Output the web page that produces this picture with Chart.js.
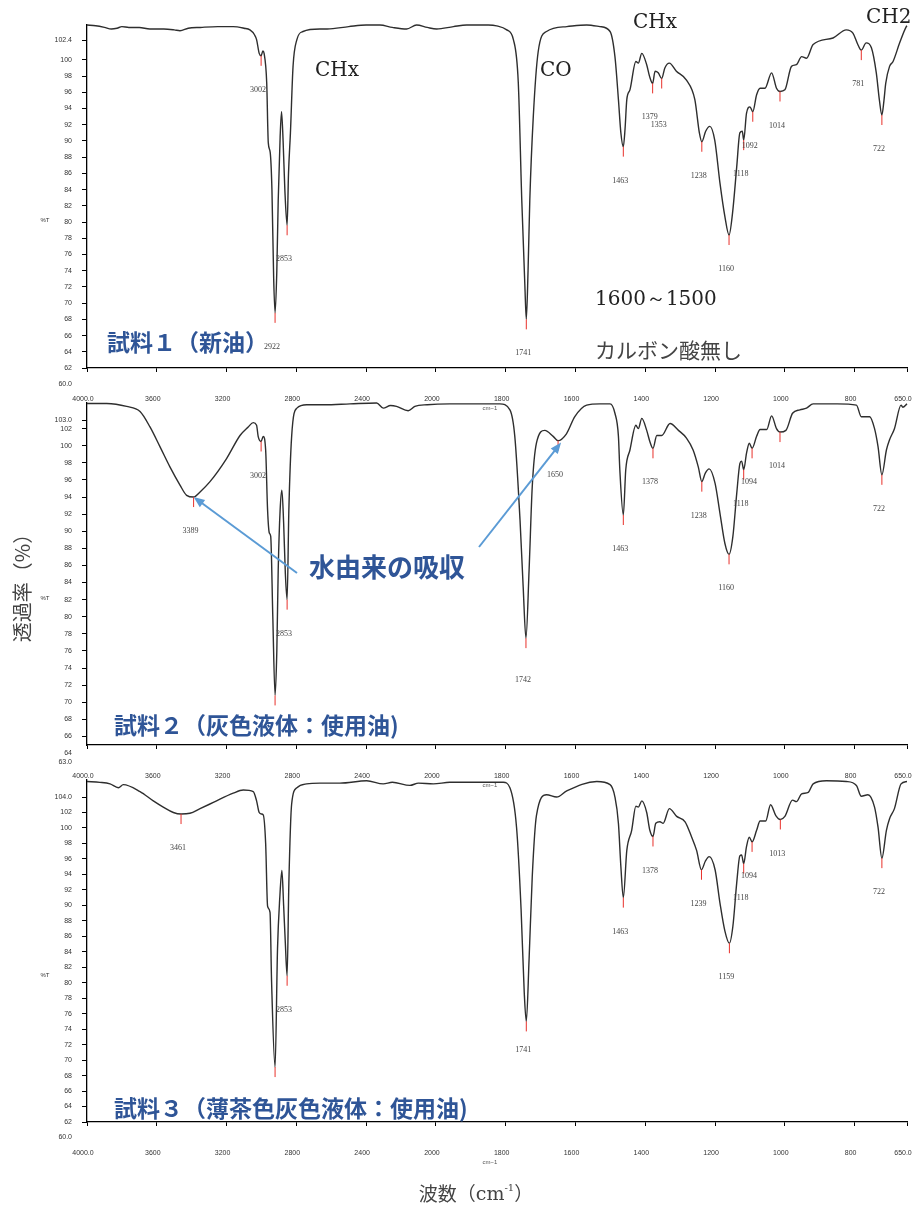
<!DOCTYPE html>
<html>
<head>
<meta charset="utf-8">
<script src="https://cdn.jsdelivr.net/npm/chart.js@4.4.1/dist/chart.umd.min.js"></script>
<style>
  body { margin: 0; background: #fff; }
  #wrap { position: relative; width: 914px; height: 1208px; }
  canvas { position: absolute; left: 0; top: 0; }
</style>
</head>
<body>
<div id="wrap">
  <canvas id="c1" width="914" height="1208"></canvas>
  <canvas id="c2" width="914" height="1208"></canvas>
  <canvas id="c3" width="914" height="1208"></canvas>
</div>
<script>
// x axis (wavenumber, cm-1)
const waveTicks = [4000, 3600, 3200, 2800, 2400, 2000, 1800, 1600, 1400, 1200, 1000, 800, 650];
const waveTickLabels = ['4000.0', '3600', '3200', '2800', '2400', '2000', '1800', '1600', '1400', '1200', '1000', '800', '650.0'];

// y axis ticks (%T) per sample
const yTicks1 = [62, 64, 66, 68, 70, 72, 74, 76, 78, 80, 82, 84, 86, 88, 90, 92, 94, 96, 98, 100, 102.4];
const yLabels1 = ['62', '64', '66', '68', '70', '72', '74', '76', '78', '80', '82', '84', '86', '88', '90', '92', '94', '96', '98', '100', '102.4'];
const yExtra1 = [60];
const yExtraLabels1 = ['60.0'];
const yTicks2 = [66, 68, 70, 72, 74, 76, 78, 80, 82, 84, 86, 88, 90, 92, 94, 96, 98, 100, 102, 103];
const yLabels2 = ['66', '68', '70', '72', '74', '76', '78', '80', '82', '84', '86', '88', '90', '92', '94', '96', '98', '100', '102', '103.0'];
const yExtra2 = [64, 63];
const yExtraLabels2 = ['64', '63.0'];
const yTicks3 = [62, 64, 66, 68, 70, 72, 74, 76, 78, 80, 82, 84, 86, 88, 90, 92, 94, 96, 98, 100, 102, 104];
const yLabels3 = ['62', '64', '66', '68', '70', '72', '74', '76', '78', '80', '82', '84', '86', '88', '90', '92', '94', '96', '98', '100', '102', '104.0'];
const yExtra3 = [60];
const yExtraLabels3 = ['60.0'];

// 試料1（新油）
const wave1 = [4000, 3950, 3900, 3860, 3828, 3800, 3760, 3700, 3640, 3560, 3500, 3467, 3420, 3350, 3250, 3163, 3100, 3066, 3040, 3028,
  3013, 3002, 2992, 2985, 2970, 2961, 2950, 2940, 2930, 2922, 2912, 2904, 2893, 2885, 2876, 2866, 2853, 2845, 2834, 2819,
  2797, 2762, 2665, 2623, 2500, 2400, 2321, 2250, 2168, 2111, 2050, 1998, 1950, 1912, 1850, 1826, 1797, 1778, 1764, 1754,
  1745, 1741, 1736, 1731, 1721, 1707, 1683, 1625, 1568, 1530, 1501, 1487, 1477, 1470, 1463, 1458, 1453, 1444, 1427, 1420,
  1410, 1396, 1388, 1379, 1372, 1363, 1353, 1344, 1331, 1311, 1282, 1258, 1245, 1238, 1227, 1215, 1201, 1186, 1172, 1160,
  1150, 1138, 1129, 1122, 1118, 1110, 1100, 1092, 1081, 1071, 1057, 1038, 1024, 1014, 1000, 981, 967, 952, 938, 919,
  862, 824, 805, 790, 781, 767, 752, 738, 729, 722, 716, 711, 700, 690, 671, 652, 650];
const trans1 = [104.3, 104.2, 104.0, 103.8, 103.9, 104.1, 104.0, 104.0, 103.8, 103.8, 103.7, 103.6, 103.9, 104.0, 104.1, 104.1, 103.9, 103.7, 103.1, 102.5,
  100.8, 100.5, 101.1, 100.8, 97.2, 89.8, 88.6, 84.0, 73.0, 68.8, 74.0, 82.7, 90.5, 93.6, 90.0, 84.0, 79.6, 86.0, 91.0, 99.2,
  102.5, 103.5, 103.8, 103.8, 104.1, 104.3, 104.3, 104.0, 103.8, 104.3, 104.0, 103.8, 104.1, 104.3, 104.3, 104.2, 103.7, 102.5, 97.2, 82.7,
  72.0, 68.0, 74.0, 82.7, 93.0, 101.0, 103.5, 104.1, 104.3, 104.1, 103.5, 100.4, 95.1, 91.0, 89.3, 91.5, 95.1, 96.3, 99.8, 99.6,
  100.8, 99.4, 98.0, 97.1, 98.6, 98.4, 97.7, 99.0, 99.6, 98.6, 97.5, 95.1, 91.0, 89.9, 91.2, 91.8, 90.1, 84.8, 80.7, 78.4,
  81.1, 86.8, 91.0, 91.2, 90.1, 93.4, 94.2, 93.6, 95.7, 96.5, 96.5, 98.4, 96.5, 96.1, 96.3, 99.2, 99.4, 100.4, 100.2, 101.9,
  102.7, 103.7, 103.3, 101.8, 101.2, 102.1, 101.5, 98.4, 95.0, 93.2, 95.0, 97.1, 99.2, 99.8, 102.1, 104.1, 104.2];
const peaks1 = [3002, 2922, 2853, 1741, 1463, 1379, 1353, 1238, 1160, 1118, 1092, 1014, 781, 722];
const peakLabels1 = ['3002', '2922', '2853', '1741', '1463', '1379', '1353', '1238', '1160', '1118', '1092', '1014', '781', '722'];

// 試料2（灰色液体：使用油）
const wave2 = [4000, 3887, 3773, 3696, 3639, 3582, 3524, 3467, 3429, 3389, 3352, 3295, 3200, 3123, 3076, 3047, 3028, 3019, 3002, 2990,
  2976, 2965, 2955, 2947, 2935, 2922, 2912, 2904, 2893, 2883, 2873, 2863, 2853, 2843, 2827, 2797, 2741, 2640, 2493, 2340,
  2302, 2260, 2226, 2159, 2121, 2050, 1960, 1817, 1788, 1774, 1759, 1750, 1742, 1733, 1724, 1712, 1688, 1664, 1650, 1626,
  1602, 1568, 1530, 1501, 1487, 1477, 1473, 1463, 1456, 1444, 1427, 1420, 1410, 1396, 1387, 1378, 1367, 1353, 1329, 1305,
  1282, 1263, 1248, 1238, 1228, 1217, 1200, 1186, 1172, 1160, 1149, 1138, 1129, 1124, 1118, 1110, 1102, 1094, 1081, 1071,
  1052, 1038, 1024, 1014, 997, 978, 957, 938, 919, 850, 795, 781, 757, 743, 733, 722, 709, 700, 686, 667,
  662, 650];
const trans2 = [104.95, 104.95, 104.6, 104.0, 102.2, 99.9, 97.5, 95.4, 94.2, 94.0, 94.6, 95.8, 98.5, 101.2, 102.2, 102.7, 102.4, 101.1, 100.5, 101.1,
  99.5, 92.5, 89.8, 89.4, 80.0, 70.8, 76.0, 85.5, 92.5, 94.8, 91.0, 85.0, 82.0, 92.5, 101.1, 104.4, 104.8, 104.8, 104.9, 105.0,
  104.4, 104.7, 104.6, 104.1, 104.6, 104.8, 104.9, 104.9, 104.2, 101.1, 91.3, 83.5, 77.5, 85.5, 95.2, 100.3, 101.8, 101.1, 100.6, 101.4,
  103.4, 104.75, 104.9, 104.9, 103.8, 101.1, 97.2, 91.9, 97.2, 99.5, 102.4, 102.0, 103.2, 101.8, 100.5, 99.7, 101.2, 101.2, 102.6, 101.8,
  100.9, 99.5, 97.5, 95.8, 96.8, 97.3, 95.6, 92.1, 88.6, 87.3, 89.4, 94.4, 97.9, 98.2, 97.2, 99.1, 100.3, 99.7, 101.1, 101.9,
  101.9, 103.5, 102.0, 101.6, 101.8, 103.8, 104.2, 104.4, 104.9, 104.9, 104.75, 103.4, 103.4, 102.0, 99.9, 96.6, 99.5, 100.7, 102.0, 104.75,
  104.5, 104.9];
const peaks2 = [3389, 3002, 2922, 2853, 1742, 1650, 1463, 1378, 1238, 1160, 1118, 1094, 1014, 722];
const peakLabels2 = ['3389', '3002', '', '2853', '1742', '1650', '1463', '1378', '1238', '1160', '1118', '1094', '1014', '722'];

// 試料3（薄茶色灰色液体：使用油）
const wave3 = [4000, 3926, 3868, 3820, 3792, 3696, 3620, 3563, 3505, 3461, 3410, 3352, 3276, 3162, 3104, 3047, 3028, 3013, 3000, 2990,
  2976, 2965, 2951, 2942, 2922, 2908, 2895, 2883, 2873, 2863, 2853, 2843, 2827, 2797, 2741, 2665, 2550, 2397, 2302, 2250,
  2149, 2100, 2015, 1960, 1807, 1788, 1769, 1756, 1747, 1741, 1733, 1724, 1712, 1683, 1654, 1625, 1539, 1501, 1487, 1477,
  1470, 1463, 1453, 1439, 1427, 1420, 1410, 1396, 1387, 1378, 1370, 1358, 1349, 1331, 1310, 1286, 1267, 1253, 1239, 1228,
  1217, 1200, 1186, 1172, 1159, 1149, 1138, 1129, 1124, 1118, 1110, 1102, 1094, 1081, 1071, 1055, 1041, 1026, 1013, 1000,
  978, 967, 952, 933, 919, 881, 824, 795, 781, 762, 743, 733, 722, 709, 700, 686, 667, 650];
const trans3 = [106.0, 105.9, 105.7, 105.2, 105.6, 104.7, 103.5, 102.7, 102.0, 101.8, 101.9, 102.5, 103.3, 104.5, 104.9, 104.7, 103.5, 102.0, 101.8, 101.7,
  98.0, 89.9, 89.1, 80.1, 69.1, 84.4, 91.0, 94.5, 90.0, 85.0, 80.9, 92.9, 103.1, 105.2, 105.7, 105.8, 105.8, 106.1, 105.7, 105.9,
  105.5, 105.8, 105.7, 105.9, 105.9, 105.2, 100.1, 89.5, 78.8, 75.0, 83.1, 93.7, 101.6, 104.3, 104.0, 104.8, 106.0, 105.6, 104.0, 100.6,
  95.0, 91.0, 97.1, 99.7, 102.8, 102.7, 103.5, 102.0, 99.7, 98.9, 100.6, 100.8, 100.6, 102.5, 101.5, 100.8, 98.8, 97.1, 94.6, 95.7,
  96.3, 94.6, 90.3, 86.7, 85.1, 87.3, 92.9, 96.4, 96.5, 95.4, 97.6, 98.8, 98.2, 99.7, 100.9, 100.9, 103.0, 101.6, 101.1, 101.5,
  103.6, 103.4, 104.4, 104.6, 105.7, 106.1, 106.0, 105.5, 104.1, 104.3, 102.7, 100.1, 96.1, 99.7, 101.2, 102.5, 105.7, 106.0];
const peaks3 = [3461, 2922, 2853, 1741, 1463, 1378, 1239, 1159, 1118, 1094, 1013, 722];
const peakLabels3 = ['3461', '', '2853', '1741', '1463', '1378', '1239', '1159', '1118', '1094', '1013', '722'];

// the printout uses half the cm-1 per pixel below 2000
function waveFrac(w) {
  const u = w >= 2000 ? (4000 - w) / 400 : 5 + (2000 - w) / 200;
  return u / 11.75;
}
function fracWave(f) {
  const u = f * 11.75;
  return u <= 5 ? 4000 - u * 400 : 2000 - (u - 5) * 200;
}
class WaveScale extends Chart.LinearScale {
  getPixelForValue(v) { return this.getPixelForDecimal(waveFrac(v)); }
  getValueForPixel(p) { return fracWave(this.getDecimalForPixel(p)); }
}
WaveScale.id = 'wave';
Chart.register(WaveScale);

const BLUE = '#2f5597';
const SERIF = '"DejaVu Serif", "Liberation Serif", serif';
const JP = '"Noto Sans CJK JP", sans-serif';

function text(ctx, s, x, y, font, color, align) {
  ctx.font = font;
  ctx.fillStyle = color;
  ctx.textAlign = align || 'left';
  ctx.textBaseline = 'middle';
  ctx.fillText(s, x, y);
}

function arrow(ctx, x0, y0, x1, y1) {
  const a = Math.atan2(y1 - y0, x1 - x0);
  ctx.strokeStyle = '#5b9bd5';
  ctx.fillStyle = '#5b9bd5';
  ctx.lineWidth = 2;
  ctx.beginPath();
  ctx.moveTo(x0, y0);
  ctx.lineTo(x1 - 8 * Math.cos(a), y1 - 8 * Math.sin(a));
  ctx.stroke();
  ctx.beginPath();
  ctx.moveTo(x1, y1);
  ctx.lineTo(x1 - 11 * Math.cos(a) + 4.5 * Math.sin(a), y1 - 11 * Math.sin(a) - 4.5 * Math.cos(a));
  ctx.lineTo(x1 - 11 * Math.cos(a) - 4.5 * Math.sin(a), y1 - 11 * Math.sin(a) + 4.5 * Math.cos(a));
  ctx.closePath();
  ctx.fill();
}

function annotPlugin(cfg) {
  return {
    id: 'annot' + cfg.id,
    afterDatasetsDraw(chart) {
      const ctx = chart.ctx, xs = chart.scales.x, ys = chart.scales.y, a = chart.chartArea;
      ctx.save();
      // peak markers
      cfg.peaks.forEach((p, i) => {
        const t = cfg.trans[cfg.wave.indexOf(p)];
        const px = xs.getPixelForValue(p), py = ys.getPixelForValue(t);
        ctx.strokeStyle = '#e8302a';
        ctx.lineWidth = 1;
        ctx.beginPath();
        ctx.moveTo(px, py);
        ctx.lineTo(px, py + 10);
        ctx.stroke();
        if (cfg.peakLabels[i]) {
          const dy = (cfg.nudge && cfg.nudge[p]) || 0;
          text(ctx, cfg.peakLabels[i], px - 3, py + 34 + dy, '8px "Liberation Serif", serif', '#444', 'center');
        }
      });
      // y labels that fall below the axis
      cfg.yExtra.forEach((v, i) => {
        text(ctx, cfg.yExtraLabels[i], 72, ys.getPixelForValue(v), '7px "Liberation Sans", sans-serif', '#333', 'right');
      });
      text(ctx, '%T', 45, (a.top + a.bottom) / 2 + 24, '6px "Liberation Sans", sans-serif', '#333', 'center');
      text(ctx, 'cm−1', xs.getPixelForValue(1845), a.bottom + 40, '6px "Liberation Sans", sans-serif', '#555', 'center');
      text(ctx, cfg.title, cfg.titleX, cfg.titleY, 'bold 23px ' + JP, BLUE, 'left');
      if (cfg.extra) cfg.extra(ctx, xs, ys);
      ctx.restore();
    }
  };
}

function makeChart(cfg) {
  return new Chart(document.getElementById(cfg.id), {
    type: 'line',
    data: {
      datasets: [{
        data: cfg.wave.map((w, i) => ({ x: w, y: cfg.trans[i] })),
        borderColor: '#2e2e2e',
        borderWidth: 1.4,
        pointRadius: 0,
        cubicInterpolationMode: 'monotone',
        fill: false,
        clip: 4
      }]
    },
    options: {
      responsive: false,
      animation: false,
      events: [],
      layout: { padding: { top: cfg.top, bottom: 1208 - cfg.bottom - 40, left: 0, right: 7 } },
      plugins: { legend: { display: false }, tooltip: { enabled: false } },
      scales: {
        x: {
          type: 'wave', min: 650, max: 4000,
          afterBuildTicks: s => { s.ticks = waveTicks.map(v => ({ value: v })); },
          afterFit: s => { s.height = 40; s.paddingLeft = 0; s.paddingRight = 0; },
          grid: { drawOnChartArea: false, drawTicks: true, tickLength: 4, color: '#000', lineWidth: 1 },
          border: { color: '#000', width: 1.3 },
          ticks: {
            autoSkip: false, maxRotation: 0, padding: 23, labelOffset: -4, color: '#333',
            font: { family: 'Liberation Sans', size: 7 },
            callback: (v, i) => waveTickLabels[i]
          }
        },
        y: {
          min: cfg.ymin, max: cfg.ymax,
          afterBuildTicks: s => { s.ticks = cfg.yTicks.map(v => ({ value: v })); },
          afterFit: s => { s.width = 87; s.paddingTop = 0; s.paddingBottom = 0; },
          grid: { drawOnChartArea: false, drawTicks: true, tickLength: 5, color: '#000', lineWidth: 1 },
          border: { color: '#000', width: 1.3 },
          ticks: {
            autoSkip: false, padding: 10, color: '#333',
            font: { family: 'Liberation Sans', size: 7 },
            callback: (v, i) => cfg.yLabels[i]
          }
        }
      }
    },
    plugins: [annotPlugin(cfg)]
  });
}

makeChart({
  id: 'c1', top: 25, bottom: 368, ymin: 62, ymax: 104.3,
  wave: wave1, trans: trans1, yTicks: yTicks1, yLabels: yLabels1, yExtra: yExtra1, yExtraLabels: yExtraLabels1,
  peaks: peaks1, peakLabels: peakLabels1, nudge: { 1353: 12 },
  title: '試料１（新油）', titleX: 107, titleY: 342,
  extra(ctx) {
    text(ctx, 'CHx', 315, 71, '20px ' + SERIF, '#222');
    text(ctx, 'CO', 540, 71, '20px ' + SERIF, '#222');
    text(ctx, 'CHx', 633, 23, '20px ' + SERIF, '#222');
    text(ctx, 'CH2', 866, 18, '20px ' + SERIF, '#222');
    text(ctx, '1600～1500', 595, 300, '20px ' + SERIF, '#222');
    text(ctx, 'カルボン酸無し', 595, 350, '21px ' + JP, '#444');
  }
});

makeChart({
  id: 'c2', top: 403, bottom: 745, ymin: 65, ymax: 105,
  wave: wave2, trans: trans2, yTicks: yTicks2, yLabels: yLabels2, yExtra: yExtra2, yExtraLabels: yExtraLabels2,
  peaks: peaks2, peakLabels: peakLabels2, nudge: { 1742: 8 },
  title: '試料２（灰色液体：使用油)', titleX: 114, titleY: 725,
  extra(ctx, xs, ys) {
    text(ctx, '水由来の吸収', 309, 567, 'bold 26px ' + JP, BLUE);
    arrow(ctx, 297, 573, xs.getPixelForValue(3389), ys.getPixelForValue(94.0));
    arrow(ctx, 479, 547, xs.getPixelForValue(1650) + 3, ys.getPixelForValue(100.6) + 2);
    // y axis title, shared by the three panels
    ctx.save();
    ctx.translate(22, 583);
    ctx.rotate(-Math.PI / 2);
    text(ctx, '透過率（%）', 0, 0, '20px ' + JP, '#444', 'center');
    ctx.restore();
  }
});

makeChart({
  id: 'c3', top: 780, bottom: 1122, ymin: 62, ymax: 106.2,
  wave: wave3, trans: trans3, yTicks: yTicks3, yLabels: yLabels3, yExtra: yExtra3, yExtraLabels: yExtraLabels3,
  peaks: peaks3, peakLabels: peakLabels3, nudge: { 1741: -6 },
  title: '試料３（薄茶色灰色液体：使用油)', titleX: 114, titleY: 1108,
  extra(ctx) {
    // x axis title with superscript
    const f1 = '19px ' + JP, f2 = '19px ' + SERIF, f3 = '10px ' + SERIF;
    ctx.font = f1; const w1 = ctx.measureText('波数（').width;
    ctx.font = f2; const w2 = ctx.measureText('cm').width;
    ctx.font = f3; const w3 = ctx.measureText('-1').width;
    ctx.font = f1; const w4 = ctx.measureText('）').width;
    let x = 476 - (w1 + w2 + w3 + w4) / 2;
    text(ctx, '波数（', x, 1194, f1, '#444'); x += w1;
    text(ctx, 'cm', x, 1195, f2, '#444'); x += w2;
    text(ctx, '-1', x, 1188, f3, '#444'); x += w3;
    text(ctx, '）', x, 1194, f1, '#444');
  }
});
</script>
</body>
</html>
